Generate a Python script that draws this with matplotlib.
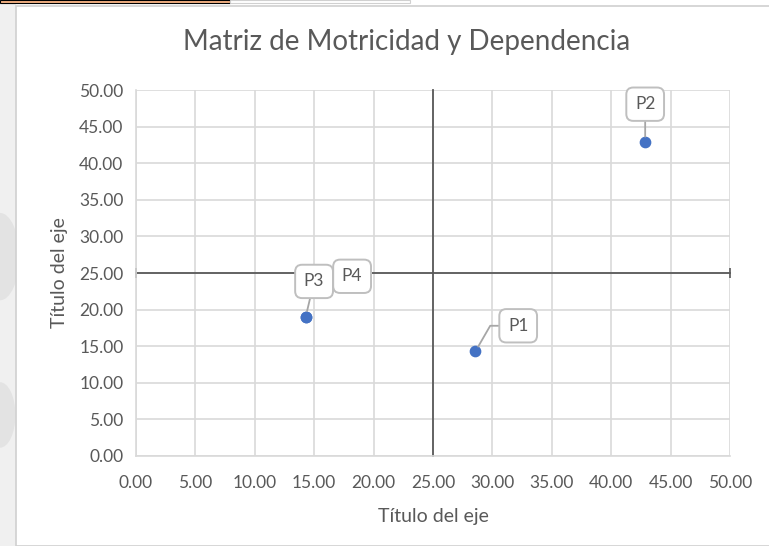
import matplotlib
matplotlib.use("Agg")
import matplotlib.pyplot as plt
from matplotlib.patches import Rectangle, Ellipse

# datos de la matriz
etiquetas = ["P1", "P2", "P3", "P4"]
motricidad = [28.57, 42.86, 14.29, 14.29]   # eje x
dependencia = [14.29, 42.86, 19.05, 19.05]  # eje y
corte = 25.0
limite = 50.0

gris_txt = "#595959"
gris_grid = "#d9d9d9"
azul = "#4472C4"

plt.rcParams['font.family'] = ['Lato', 'DejaVu Sans']

fig = plt.figure(figsize=(7.69, 5.46), dpi=100)
fig.patch.set_facecolor("white")

# fondo de hoja de calculo a la izquierda / arriba
fig.patches.append(Rectangle((0, 0), 16/769, 1, transform=fig.transFigure,
                             facecolor="#f0f0f0", edgecolor="none", zorder=0))
for (cx, cy, w, h) in [(0.0, 0.53, 0.05, 0.16), (0.0, 0.24, 0.04, 0.12)]:
    fig.patches.append(Ellipse((cx, cy), w, h, transform=fig.transFigure,
                               facecolor="#e3e3e3", edgecolor="none", zorder=0.5))
fig.patches.append(Rectangle((16/769, 0), 1, 1 - 6/546, transform=fig.transFigure,
                             facecolor="white", edgecolor="#d0d0d0", lw=1.2, zorder=1))
fig.patches.append(Rectangle((0, 1 - 3/546), 230/769, 3/546, transform=fig.transFigure,
                             facecolor="#f4b183", edgecolor="black", lw=0.8, zorder=2))
fig.patches.append(Rectangle((230/769, 1 - 3/546), 180/769, 3/546, transform=fig.transFigure,
                             facecolor="white", edgecolor="#d0d0d0", lw=0.8, zorder=2))

ax = fig.add_axes([136/769, 90/546, 594/769, 366/546])
ax.set_zorder(3)
ax.set_facecolor("none")

ax.set_xlim(0, limite)
ax.set_ylim(0, limite)
ticks = [i * 5 for i in range(11)]
ax.set_xticks(ticks)
ax.set_yticks(ticks)
ax.set_xticklabels([f"{t:.2f}" for t in ticks])
ax.set_yticklabels([f"{t:.2f}" for t in ticks])
ax.tick_params(length=0, colors=gris_txt, labelsize=12.5)
ax.tick_params(axis="x", pad=14)
ax.tick_params(axis="y", pad=9)
ax.grid(True, color=gris_grid, lw=1.2)
ax.set_axisbelow(True)
for s in ["top", "right"]:
    ax.spines[s].set_visible(False)
for s in ["left", "bottom"]:
    ax.spines[s].set_color(gris_grid)
    ax.spines[s].set_linewidth(1.2)

# lineas de corte
ax.plot([0, limite], [corte, corte], color=gris_txt, lw=1.3, zorder=2, clip_on=False)
ax.plot([0, limite], [corte, corte], ls="none", marker="|", ms=7, mew=1.2,
        color=gris_txt, clip_on=False, zorder=2)
ax.plot([corte, corte], [0, limite], color=gris_txt, lw=1.3, zorder=2, clip_on=False)

ax.scatter(motricidad, dependencia, s=55, color=azul, zorder=4)

# posicion de las etiquetas (desplazamiento en datos)
desp = {"P1": (3.6, 3.5), "P2": (0.0, 5.2), "P3": (0.7, 4.8), "P4": (3.9, 5.5)}
for lab, x, y in zip(etiquetas, motricidad, dependencia):
    dx, dy = desp[lab]
    con = "angle,angleA=0,angleB=60,rad=0" if lab == "P1" else "arc3"
    ax.annotate(lab, xy=(x, y), xytext=(x + dx, y + dy), ha="center", va="center",
                fontsize=12.5, color=gris_txt, zorder=5,
                bbox=dict(boxstyle="round,pad=0.5,rounding_size=0.4",
                          fc="white", ec="#bfbfbf", lw=1.4),
                arrowprops=dict(arrowstyle="-", color="#a6a6a6", lw=1.3,
                                shrinkA=0, shrinkB=4, connectionstyle=con)
                if lab != "P4" else None)

ax.set_xlabel("Título del eje", color=gris_txt, fontsize=14, labelpad=12)
ax.set_ylabel("Título del eje", color=gris_txt, fontsize=14, labelpad=8)
fig.text(407/769, 1 - 42/546, "Matriz de Motricidad y Dependencia",
         ha="center", va="center", fontsize=20, color=gris_txt)

fig.savefig("out.png", dpi=100)
